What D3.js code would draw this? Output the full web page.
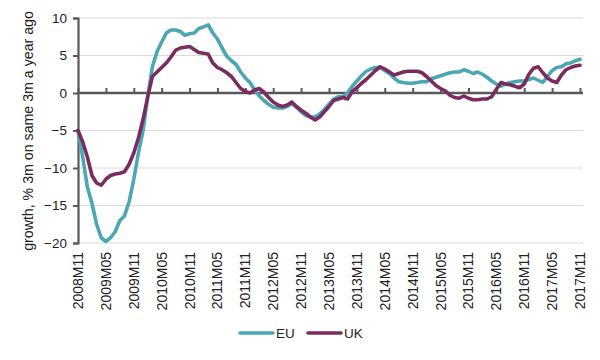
<!DOCTYPE html>
<html>
<head>
<meta charset="utf-8">
<script src="https://cdn.jsdelivr.net/npm/d3@7"></script>
<style>
  html, body { margin: 0; padding: 0; background: #fff; }
  svg { display: block; font-family: "Liberation Sans", Arial, sans-serif; }
</style>
</head>
<body>
<svg id="chart" width="600" height="360"></svg>
<script>
// ---- data ----
const seriesNames = ["EU", "UK"];
const xTickLabels = ["2008M11","2009M05","2009M11","2010M05","2010M11","2011M05","2011M11","2012M05","2012M11","2013M05","2013M11","2014M05","2014M11","2015M05","2015M11","2016M05","2016M11","2017M05","2017M11"];
const yTicks = [-20, -15, -10, -5, 0, 5, 10];

// monthly categories 2008M11 .. 2017M11
const categories = [];
for (let yr = 2008, mo = 11; yr < 2017 || (yr === 2017 && mo <= 11); ) {
  categories.push(yr + "M" + String(mo).padStart(2, "0"));
  mo++; if (mo > 12) { mo = 1; yr++; }
}

const euValues = [
  -5.0, -8.5, -12.5, -14.7, -17.5, -19.3, -19.8, -19.3, -18.5, -17.0,
  -16.4, -14.5, -11.5, -8.0, -5.0, -0.5, 3.5, 5.5, 6.8, 8.0,
  8.4, 8.4, 8.2, 7.7, 7.9, 8.0, 8.6, 8.8, 9.1, 8.0,
  7.2, 6.0, 4.9, 4.3, 3.8, 2.8, 2.0, 1.4, 0.4, -0.4,
  -1.0, -1.5, -1.9, -2.0, -2.0, -1.8, -1.4, -1.9, -2.5, -3.0,
  -3.2, -3.2, -2.8, -2.2, -1.5, -0.8, -0.5, -0.5, 0.0, 0.9,
  1.6, 2.3, 2.9, 3.2, 3.4, 3.4, 3.0, 2.6, 2.0, 1.5,
  1.4, 1.3, 1.3, 1.4, 1.5, 1.5, 1.9, 2.1, 2.3, 2.5,
  2.7, 2.8, 2.8, 3.1, 2.9, 2.6, 2.8, 2.5, 2.1, 1.6,
  1.2, 0.9, 1.2, 1.4, 1.5, 1.6, 1.6, 1.8, 2.0, 1.7,
  1.4, 2.2, 3.0, 3.4, 3.5, 3.9, 4.0, 4.3, 4.5
];
const ukValues = [
  -5.0, -6.5, -8.5, -11.0, -12.0, -12.3, -11.5, -11.0, -10.8, -10.7,
  -10.5, -9.5, -8.0, -6.0, -3.5, -0.5, 2.2, 2.8, 3.4, 4.0,
  4.8, 5.7, 6.0, 6.1, 6.2, 5.8, 5.4, 5.3, 5.2, 4.0,
  3.4, 3.1, 2.7, 2.2, 1.4, 0.6, 0.2, 0.0, 0.4, 0.6,
  0.1, -0.6, -1.2, -1.6, -1.8, -1.6, -1.2, -1.8, -2.3, -2.7,
  -3.2, -3.6, -3.2, -2.5, -1.8, -1.0, -0.8, -0.6, -0.8, 0.2,
  0.7, 1.3, 1.8, 2.4, 3.0, 3.5, 3.2, 2.8, 2.4, 2.6,
  2.8, 2.9, 2.9, 2.9, 2.7, 2.2, 1.6, 1.0, 0.6, 0.3,
  -0.3, -0.6, -0.7, -0.4, -0.7, -0.9, -0.9, -0.8, -0.8, -0.5,
  0.5, 1.4, 1.2, 1.1, 0.9, 0.7, 1.2, 2.5, 3.3, 3.5,
  2.7, 2.0, 1.6, 1.4, 2.4, 3.1, 3.4, 3.6, 3.7
];
const colors = { EU: "#4ba7b3", UK: "#7b2c5f" };

// ---- drawing ----
const svg = d3.select("#chart");
const plotLeft = 78, plotRight = 580, plotTop = 18, plotBottom = 243;

const x = d3.scalePoint().domain(categories).range([plotLeft, plotRight]);
const y = d3.scaleLinear().domain([-20, 10]).range([plotBottom, plotTop]);

// gridlines
svg.append("g")
  .selectAll("line")
  .data(yTicks.filter(d => d !== 0))
  .join("line")
  .attr("x1", plotLeft).attr("x2", plotRight + 3)
  .attr("y1", d => y(d)).attr("y2", d => y(d))
  .attr("stroke", "#d9d9d9").attr("stroke-width", 1);

// y axis
const yAxis = svg.append("g")
  .attr("transform", `translate(${plotLeft},0)`)
  .call(d3.axisLeft(y).tickValues(yTicks).tickSize(5).tickPadding(6).tickFormat(d3.format("d")));
yAxis.select(".domain").attr("stroke", "#595959").attr("stroke-width", 2.2);
yAxis.selectAll(".tick line").attr("stroke", "#595959").attr("stroke-width", 2);
yAxis.selectAll("text").attr("font-size", 13.5).attr("fill", "#222")
  .attr("font-family", "Liberation Sans, Arial, sans-serif");

// x axis at zero, labels at bottom
const xAxis = svg.append("g")
  .attr("transform", `translate(0,${y(0)})`)
  .call(d3.axisTop(x).tickValues(xTickLabels).tickSize(5).tickFormat(""));
xAxis.select(".domain").attr("stroke", "#595959").attr("stroke-width", 2.6)
  .attr("d", `M${plotLeft},0H${plotRight + 3}`);
xAxis.selectAll(".tick line").attr("stroke", "#595959").attr("stroke-width", 2);

svg.append("g")
  .selectAll("text")
  .data(xTickLabels)
  .join("text")
  .attr("transform", d => `translate(${x(d) + 5},${plotBottom + 9}) rotate(-90)`)
  .attr("text-anchor", "end")
  .attr("font-size", 14)
  .attr("fill", "#222")
  .text(d => d);

// y label
svg.append("text")
  .attr("transform", `translate(33,131) rotate(-90)`)
  .attr("text-anchor", "middle")
  .attr("font-size", 14.2)
  .attr("fill", "#222")
  .text("growth, % 3m on same 3m a year ago");

// lines
const line = d3.line().x((d, i) => x(categories[i])).y(d => y(d));
const data = { EU: euValues, UK: ukValues };
seriesNames.forEach(name => {
  svg.append("path")
    .datum(data[name])
    .attr("d", line)
    .attr("fill", "none")
    .attr("stroke", colors[name])
    .attr("stroke-width", 3.6)
    .attr("stroke-linejoin", "round")
    .attr("stroke-linecap", "round");
});

// legend
const legendPos = [{ name: "EU", x: 240 }, { name: "UK", x: 308 }];
const lg = svg.append("g");
legendPos.forEach(p => {
  lg.append("line")
    .attr("x1", p.x).attr("x2", p.x + 33)
    .attr("y1", 333).attr("y2", 333)
    .attr("stroke", colors[p.name]).attr("stroke-width", 3.6)
    .attr("stroke-linecap", "round");
  lg.append("text")
    .attr("x", p.x + 36).attr("y", 338)
    .attr("font-size", 13.5).attr("fill", "#222")
    .text(p.name);
});
</script>
</body>
</html>
